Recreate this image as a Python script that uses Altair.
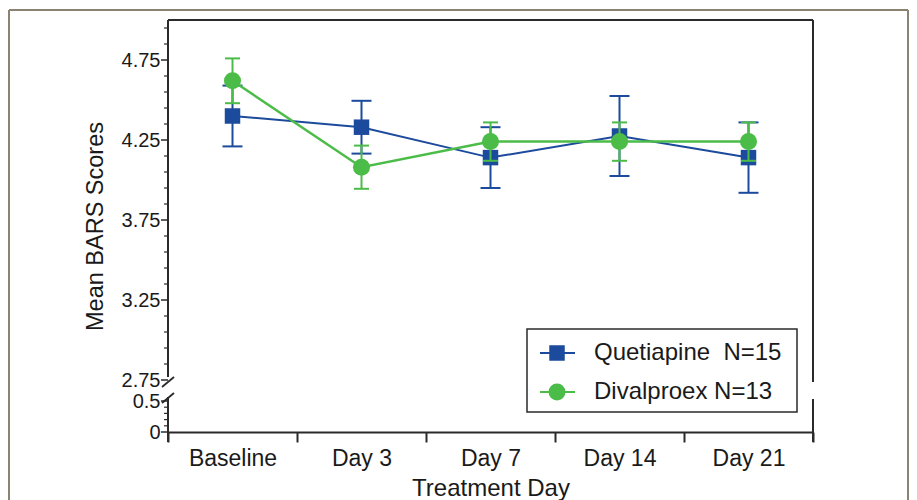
import altair as alt
import pandas as pd

# ---- data ----
days = ["Baseline", "Day 3", "Day 7", "Day 14", "Day 21"]
series_names = ["Quetiapine", "Divalproex"]
legend_labels = ["Quetiapine\u00a0 N=15", "Divalproex N=13"]
que_mean = [4.40, 4.33, 4.14, 4.275, 4.14]
que_err = [0.19, 0.165, 0.19, 0.25, 0.22]
div_mean = [4.62, 4.08, 4.24, 4.24, 4.24]
div_err = [0.14, 0.135, 0.12, 0.12, 0.12]
major_ticks = [0, 0.5, 2.75, 3.25, 3.75, 4.25, 4.75]
lower_minor = [0.1, 0.2, 0.3, 0.4]
upper_minor = [2.85, 2.95, 3.05, 3.15, 3.35, 3.45, 3.55, 3.65, 3.85, 3.95,
               4.05, 4.15, 4.35, 4.45, 4.55, 4.65, 4.85, 4.95]

colors = ["#1c4a9c", "#4cbc48"]
FONT = "Liberation Sans"
TXT = "#1a1a1a"
AX = "#2a2a2a"

# broken axis: values below the break are compressed into a short segment
BREAK = 2.75
LOW0 = 2.425
LOWK = 0.3875


def disp(v):
    return v if v >= BREAK else LOW0 + v * LOWK


W, H = 645, 412
ydom = [LOW0, 5.0]

frames = []
for name, m, e in [(series_names[0], que_mean, que_err), (series_names[1], div_mean, div_err)]:
    frames.append(pd.DataFrame({
        "day": days, "series": name, "mean": m,
        "lo": [a - b for a, b in zip(m, e)], "hi": [a + b for a, b in zip(m, e)],
    }))
df = pd.concat(frames, ignore_index=True)

xscale = alt.Scale(type="band", domain=days, paddingInner=0, paddingOuter=0)
yscale = alt.Scale(domain=ydom, nice=False, zero=False)

label_expr = ("datum.value < 2.5 ? '0' : (datum.value < 2.7 ? '0.5' : "
              "format(datum.value, '.2f'))")

x_axis = alt.Axis(title="Treatment Day", labelAngle=0, tickBand="extent",
                  tickSize=10, tickWidth=2, tickColor=AX, domainColor=AX,
                  domainWidth=2, labelFont=FONT, labelFontSize=23,
                  labelColor=TXT, labelPadding=5, labelOverlap=False,
                  titleFont=FONT,
                  titleFontSize=24, titleFontWeight="normal", titleColor=TXT,
                  titleY=56, titleBaseline="middle", grid=False)
y_axis = alt.Axis(title="Mean BARS Scores", values=[disp(v) for v in major_ticks],
                  labelExpr=label_expr, ticks=False, tickSize=0, domain=False,
                  grid=False, labelFont=FONT, labelFontSize=20, labelColor=TXT,
                  labelPadding=8, labelOverlap=False, labelFlush=False,
                  titleFont=FONT, titleFontSize=23.5,
                  titleFontWeight="normal", titleColor=TXT, titleX=-73,
                  titleY=206, titleAlign="center", titleBaseline="middle")


def X():
    return alt.X("day:N", scale=xscale, sort=days, axis=x_axis)


def Y(field):
    return alt.Y(f"{field}:Q", scale=yscale, axis=y_axis)


one = alt.Data(values=[{}])


def rule(x, y, x2=None, y2=None, color=AX, width=2):
    enc = dict(x=alt.value(x), y=alt.value(y))
    if x2 is not None:
        enc["x2"] = alt.value(x2)
    if y2 is not None:
        enc["y2"] = alt.value(y2)
    return alt.Chart(one).mark_rule(color=color, strokeWidth=width, clip=False).encode(**enc)


layers = []

# outer frame (page border)
FR = "#8c8272"
layers += [rule(-159, -10, x2=740, color=FR, width=2),
           rule(-159, -10, y2=480, color=FR, width=2),
           rule(740, -10, y2=480, color=FR, width=2)]

# plot frame with breaks
layers += [
    rule(0, 0, x2=W),                 # top
    rule(0, 0, y2=357),               # left upper
    rule(0, 377, y2=422),             # left lower
    rule(W, 0, y2=362),               # right upper
    rule(W, 379, y2=422),             # right lower
    rule(-6, 367, x2=6, y2=357, width=1.8),   # break slashes
    rule(-6, 383, x2=6, y2=373, width=1.8),
]

# y ticks
tick_major = pd.DataFrame({"mean": [disp(v) for v in major_ticks]})
tick_minor = pd.DataFrame({"mean": [disp(v) for v in lower_minor + upper_minor]})
layers.append(alt.Chart(tick_major).mark_rule(color=AX, strokeWidth=1.5).encode(
    y=Y("mean"), x=alt.value(-7), x2=alt.value(0)))
layers.append(alt.Chart(tick_minor).mark_rule(color=AX, strokeWidth=1.2).encode(
    y=Y("mean"), x=alt.value(-4), x2=alt.value(0)))

# series
specs = [(series_names[0], colors[0], "square", 240, 2, 20),
         (series_names[1], colors[1], "circle", 290, 2.5, 15)]
for name, col, shape, size, lw, capw in specs:
    base = alt.Chart(df).transform_filter(alt.datum.series == name)
    layers.append(base.mark_line(color=col, strokeWidth=lw).encode(x=X(), y=Y("mean")))
    layers.append(base.mark_rule(color=col, strokeWidth=2).encode(
        x=X(), y=Y("lo"), y2="hi:Q"))
    for f in ["lo", "hi"]:
        layers.append(base.mark_tick(color=col, orient="horizontal", size=capw,
                                     thickness=2, opacity=1).encode(x=X(), y=Y(f)))
    layers.append(base.mark_point(shape=shape, filled=True, size=size,
                                  color=col, opacity=1).encode(x=X(), y=Y("mean")))

# legend
layers.append(alt.Chart(one).mark_rect(fill="white", stroke=AX, strokeWidth=1.5).encode(
    x=alt.value(359), x2=alt.value(629), y=alt.value(309), y2=alt.value(392)))
for i, (name, col, shape, size, lw, capw) in enumerate(specs):
    yy = 333 + i * 39
    layers.append(rule(372, yy, x2=407, color=col, width=2))
    layers.append(alt.Chart(one).mark_point(shape=shape, filled=True, size=size,
                                            color=col, opacity=1).encode(
        x=alt.value(389), y=alt.value(yy)))
    layers.append(alt.Chart(one).mark_text(text=legend_labels[i], align="left",
                                           baseline="middle", font=FONT,
                                           fontSize=24, color=TXT).encode(
        x=alt.value(426), y=alt.value(yy)))

chart = alt.layer(*layers).properties(
    width=W, height=H,
    autosize=alt.AutoSizeParams(type="none"),
    padding={"left": 160, "top": 12, "right": 96, "bottom": 68},
    background="white",
).configure_view(stroke=None)

chart.save("out.html", embed_options={"renderer": "svg", "actions": False})
